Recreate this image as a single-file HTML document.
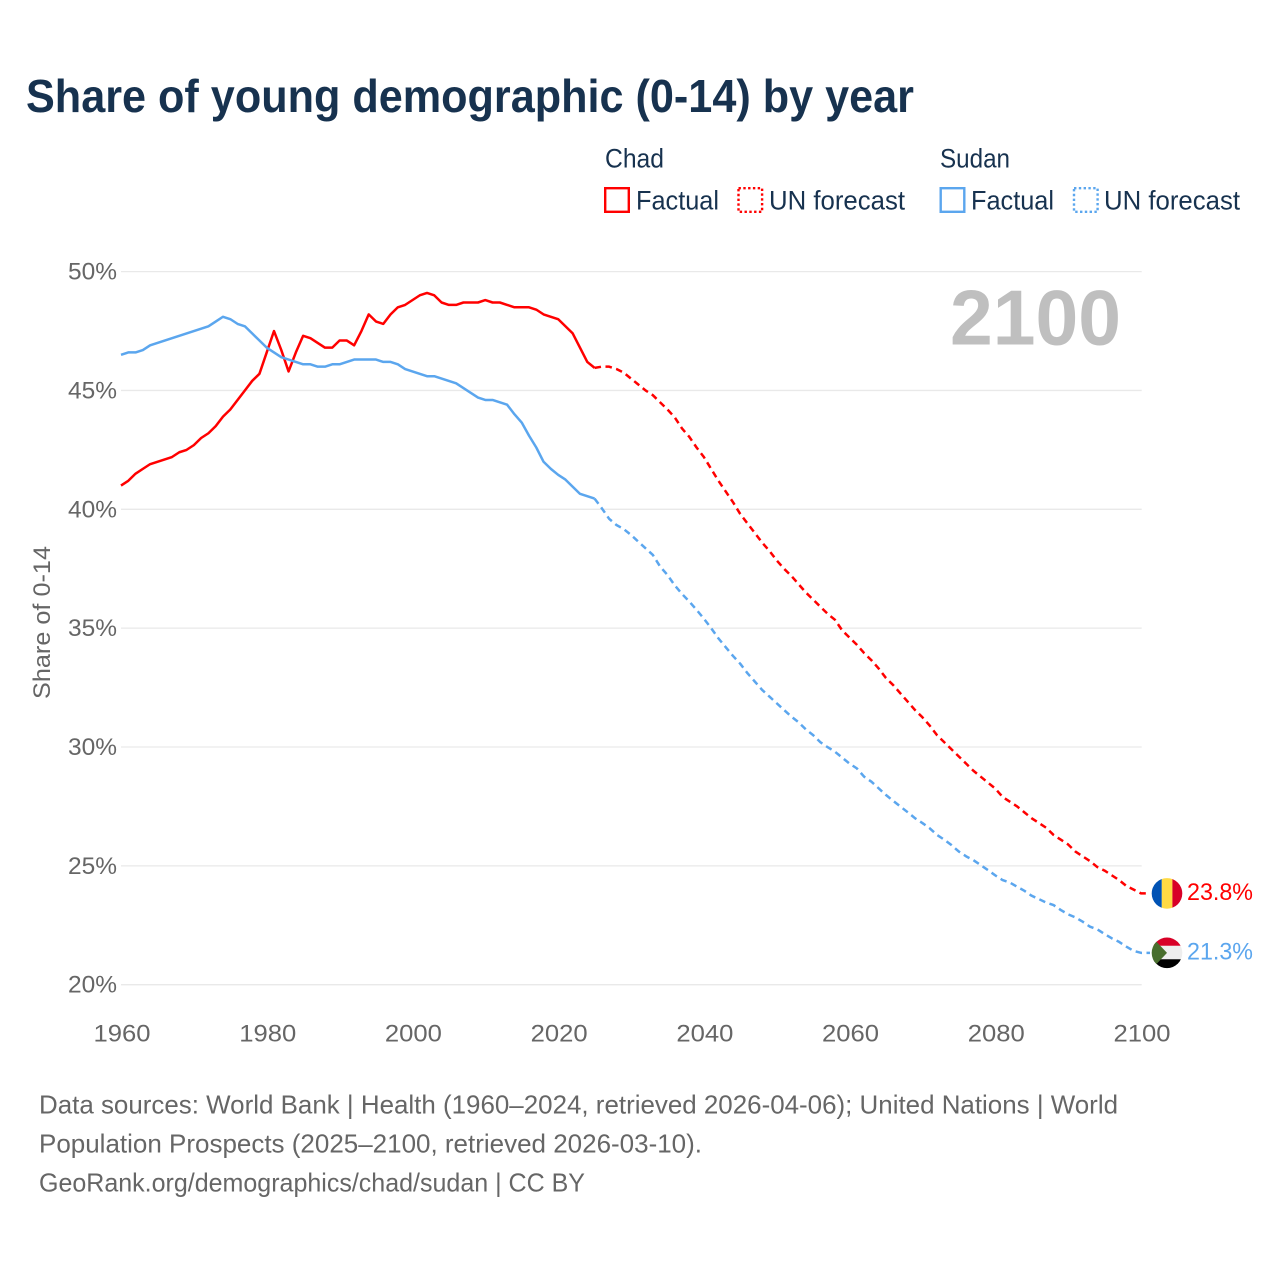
<!DOCTYPE html>
<html lang="en">
<head>
<meta charset="utf-8">
<title>Share of young demographic (0-14) by year</title>
<style>
  html, body { margin: 0; padding: 0; background: #fff; }
  svg { display: block; font-family: "Liberation Sans", Arial, sans-serif; }
</style>
</head>
<body>
<svg id="chart" xmlns="http://www.w3.org/2000/svg" width="1280" height="1280" viewBox="0 0 1280 1280">
  <rect x="0" y="0" width="1280" height="1280" fill="#ffffff"/>
  <text x="26" y="112" font-size="46" font-weight="700" fill="#17324f" textLength="888" lengthAdjust="spacingAndGlyphs">Share of young demographic (0-14) by year</text>

  <g font-size="26.5" fill="#17324f">
    <text x="605" y="167.5" textLength="59" lengthAdjust="spacingAndGlyphs">Chad</text>
    <rect x="605.2" y="188.2" width="23.6" height="23.6" fill="none" stroke="#ff0000" stroke-width="2.4"/>
    <text x="636" y="209.7" textLength="83" lengthAdjust="spacingAndGlyphs">Factual</text>
    <rect x="738.5" y="188.2" width="23.6" height="23.6" fill="none" stroke="#ff0000" stroke-width="2.4" stroke-dasharray="2.4 2.4"/>
    <text x="769" y="209.7" textLength="136" lengthAdjust="spacingAndGlyphs">UN forecast</text>
    <text x="940" y="167.5" textLength="70" lengthAdjust="spacingAndGlyphs">Sudan</text>
    <rect x="940.7" y="188.2" width="23.6" height="23.6" fill="none" stroke="#5ba6ee" stroke-width="2.4"/>
    <text x="971" y="209.7" textLength="83" lengthAdjust="spacingAndGlyphs">Factual</text>
    <rect x="1074" y="188.2" width="23.6" height="23.6" fill="none" stroke="#5ba6ee" stroke-width="2.4" stroke-dasharray="2.4 2.4"/>
    <text x="1104" y="209.7" textLength="136" lengthAdjust="spacingAndGlyphs">UN forecast</text>
  </g>

  <g id="grid"></g>
  <g id="yticks"></g>
  <g id="xticks"></g>

  <text transform="translate(50,622.5) rotate(-90)" text-anchor="middle" font-size="24" fill="#666666" textLength="153" lengthAdjust="spacingAndGlyphs">Share of 0-14</text>
  <text x="950" y="344.5" font-size="78" font-weight="700" fill="#bfbfbf" textLength="171" lengthAdjust="spacingAndGlyphs">2100</text>

  <g id="series"></g>

  <defs>
    <clipPath id="flag-clip-chad"><circle id="clip-chad" cx="1167" cy="894" r="15.3"/></clipPath>
    <clipPath id="flag-clip-sudan"><circle id="clip-sudan" cx="1167" cy="953" r="15.3"/></clipPath>
  </defs>
  <g id="flag-chad" clip-path="url(#flag-clip-chad)"></g>
  <g id="flag-sudan" clip-path="url(#flag-clip-sudan)"></g>
  <g id="end-labels"></g>

  <g font-size="26" fill="#666666">
    <text x="39" y="1113.5" textLength="1079" lengthAdjust="spacingAndGlyphs">Data sources: World Bank | Health (1960–2024, retrieved 2026-04-06); United Nations | World</text>
    <text x="39" y="1152.5" textLength="663" lengthAdjust="spacingAndGlyphs">Population Prospects (2025–2100, retrieved 2026-03-10).</text>
    <text x="39" y="1191.5" textLength="546" lengthAdjust="spacingAndGlyphs">GeoRank.org/demographics/chad/sudan | CC BY</text>
  </g>
</svg>

<script>
const xTickLabels = [1960, 1980, 2000, 2020, 2040, 2060, 2080, 2100];
const yTickLabels = [20, 25, 30, 35, 40, 45, 50];
const factualStartYear = 1960;
const forecastStartYear = 2025;

const chadFactual = [
  41.0,41.2,41.5,41.7,41.9,42.0,42.1,42.2,42.4,42.5,
  42.7,43.0,43.2,43.5,43.9,44.2,44.6,45.0,45.4,45.7,
  46.6,47.5,46.7,45.8,46.6,47.3,47.2,47.0,46.8,46.8,
  47.1,47.1,46.9,47.5,48.2,47.9,47.8,48.2,48.5,48.6,
  48.8,49.0,49.1,49.0,48.7,48.6,48.6,48.7,48.7,48.7,
  48.8,48.7,48.7,48.6,48.5,48.5,48.5,48.4,48.2,48.1,
  48.0,47.7,47.4,46.8,46.2,45.95
];
const sudanFactual = [
  46.5,46.6,46.6,46.7,46.9,47.0,47.1,47.2,47.3,47.4,
  47.5,47.6,47.7,47.9,48.1,48.0,47.8,47.7,47.4,47.1,
  46.8,46.6,46.4,46.3,46.2,46.1,46.1,46.0,46.0,46.1,
  46.1,46.2,46.3,46.3,46.3,46.3,46.2,46.2,46.1,45.9,
  45.8,45.7,45.6,45.6,45.5,45.4,45.3,45.1,44.9,44.7,
  44.6,44.6,44.5,44.4,44.0,43.65,43.1,42.6,42.0,41.7,
  41.45,41.25,40.95,40.65,40.55,40.45
];
const chadForecast = [
  45.95,46.0,46.0,45.9,45.75,45.5,45.25,45.0,44.8,44.5,44.2,
  43.87,43.4,43.05,42.6,42.2,41.7,41.2,40.75,40.3,39.8,
  39.4,39.0,38.6,38.25,37.85,37.5,37.2,36.85,36.5,36.2,
  35.9,35.6,35.35,34.9,34.6,34.3,33.95,33.65,33.3,32.9,
  32.6,32.25,31.9,31.55,31.25,30.9,30.5,30.2,29.9,29.6,
  29.3,29.0,28.75,28.5,28.25,27.9,27.7,27.5,27.25,27.0,
  26.8,26.6,26.3,26.1,25.9,25.6,25.4,25.2,24.95,24.8,
  24.6,24.4,24.15,24.0,23.84
];
const sudanForecast = [
  40.45,40.04,39.6,39.34,39.17,38.92,38.64,38.36,38.08,37.59,37.24,
  36.8,36.44,36.12,35.77,35.4,35.0,34.57,34.2,33.83,33.5,
  33.1,32.75,32.4,32.12,31.84,31.56,31.28,31.04,30.74,30.5,
  30.2,29.99,29.8,29.55,29.3,29.1,28.75,28.54,28.26,27.98,
  27.73,27.49,27.25,27.0,26.8,26.58,26.3,26.1,25.87,25.6,
  25.4,25.24,25.03,24.82,24.6,24.4,24.3,24.12,23.95,23.74,
  23.6,23.45,23.35,23.14,22.96,22.83,22.65,22.44,22.33,22.13,
  21.95,21.8,21.6,21.42,21.34
];

const NS = 'http://www.w3.org/2000/svg';
const RED = '#ff0000';
const BLUE = '#5ba6ee';

function xScale(year) { return 121 + (year - 1960) * (1020 / 140); }
function yScale(pct) { return 984.7 - (pct - 20) * 23.77; }

function make(tag, attrs, parent) {
  const el = document.createElementNS(NS, tag);
  for (const k in attrs) el.setAttribute(k, attrs[k]);
  parent.appendChild(el);
  return el;
}

const gridGroup = document.getElementById('grid');
const yTickGroup = document.getElementById('yticks');
const xTickGroup = document.getElementById('xticks');
const seriesGroup = document.getElementById('series');
const endLabelGroup = document.getElementById('end-labels');

yTickLabels.forEach(function (t) {
  const line = make('line', { x1: xScale(1960), x2: xScale(2100) + 0.7, y1: yScale(t), y2: yScale(t), stroke: '#e9e9e9', 'stroke-width': 1.3 }, gridGroup);
  
  
  const label = make('text', { x: 117, y: yScale(t) + 8, 'text-anchor': 'end', 'font-size': 24, fill: '#666666', textLength: 49, lengthAdjust: 'spacingAndGlyphs' }, yTickGroup);
  label.textContent = t + '%';
  
  
});

xTickLabels.forEach(function (t) {
  const label = make('text', { x: xScale(t) + 1, y: 1041.5, 'text-anchor': 'middle', 'font-size': 24, fill: '#666666', textLength: 57, lengthAdjust: 'spacingAndGlyphs' }, xTickGroup);
  label.textContent = t;
  
  
});

function pathFrom(values, startYear, connector) {
  let d = '';
  values.forEach(function (v, i) {
    d += (i ? 'L' : 'M') + xScale(startYear + i).toFixed(2) + ' ' + yScale(v).toFixed(2);
  });
  if (connector) d += 'L' + (xScale(2100) + 9) + ' ' + yScale(values[values.length - 1]).toFixed(2);
  return d;
}

const chadFactualLine = make('path', { d: pathFrom(chadFactual, factualStartYear, false), fill: 'none', stroke: RED, 'stroke-width': 2.5, 'stroke-linejoin': 'round' }, seriesGroup);



const sudanFactualLine = make('path', { d: pathFrom(sudanFactual, factualStartYear, false), fill: 'none', stroke: BLUE, 'stroke-width': 2.5, 'stroke-linejoin': 'round' }, seriesGroup);



const chadForecastLine = make('path', { d: pathFrom(chadForecast, forecastStartYear, true), fill: 'none', stroke: RED, 'stroke-width': 2.5, 'stroke-dasharray': '6.5 4.5', 'stroke-linejoin': 'round' }, seriesGroup);



const sudanForecastLine = make('path', { d: pathFrom(sudanForecast, forecastStartYear, true), fill: 'none', stroke: BLUE, 'stroke-width': 2.5, 'stroke-dasharray': '6.5 4.5', 'stroke-linejoin': 'round' }, seriesGroup);



/* End-of-line flags and value labels follow the last forecast value */
const chadEndY = yScale(chadForecast[chadForecast.length - 1]);
const sudanEndY = yScale(sudanForecast[sudanForecast.length - 1]);

document.getElementById('clip-chad').setAttribute('cy', chadEndY);
document.getElementById('clip-sudan').setAttribute('cy', sudanEndY);

const flagChad = document.getElementById('flag-chad');
make('rect', { x: 1151, y: chadEndY - 16, width: 10.8, height: 32, fill: '#0052b4' }, flagChad);
make('rect', { x: 1161.8, y: chadEndY - 16, width: 10.6, height: 32, fill: '#ffda44' }, flagChad);
make('rect', { x: 1172.4, y: chadEndY - 16, width: 11, height: 32, fill: '#d80027' }, flagChad);

const flagSudan = document.getElementById('flag-sudan');
make('rect', { x: 1151, y: sudanEndY - 16, width: 33, height: 9, fill: '#d80027' }, flagSudan);
make('rect', { x: 1151, y: sudanEndY - 7, width: 33, height: 13.4, fill: '#eeeeee' }, flagSudan);
make('rect', { x: 1151, y: sudanEndY + 6.4, width: 33, height: 10, fill: '#000000' }, flagSudan);
make('polygon', { points: '1151,' + (sudanEndY - 17) + ' 1167,' + sudanEndY + ' 1151,' + (sudanEndY + 17), fill: '#496e2d' }, flagSudan);

const chadEndLabel = make('text', { x: 1187, y: chadEndY + 6.5, 'font-size': 24, fill: RED, textLength: 66, lengthAdjust: 'spacingAndGlyphs' }, endLabelGroup);
chadEndLabel.textContent = chadForecast[chadForecast.length - 1].toFixed(1) + '%';



const sudanEndLabel = make('text', { x: 1187, y: sudanEndY + 6.5, 'font-size': 24, fill: BLUE, textLength: 66, lengthAdjust: 'spacingAndGlyphs' }, endLabelGroup);
sudanEndLabel.textContent = sudanForecast[sudanForecast.length - 1].toFixed(1) + '%';


</script>
</body>
</html>
